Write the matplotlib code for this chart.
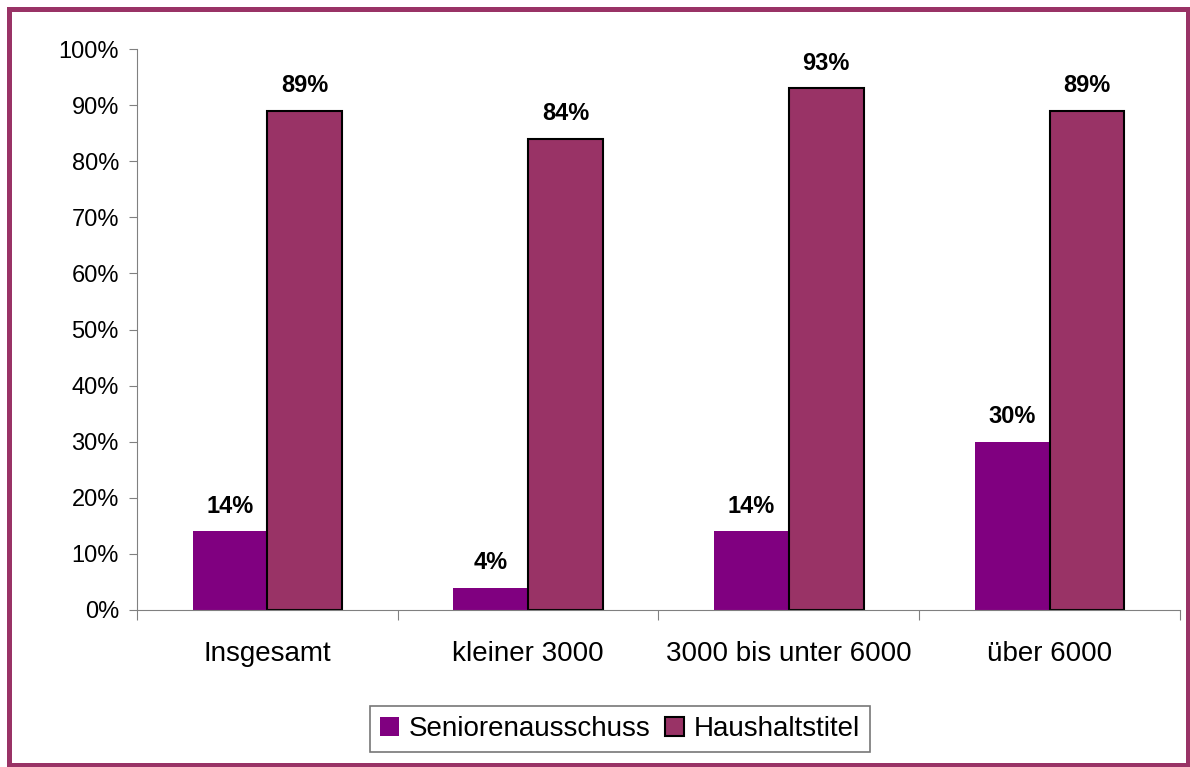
import numpy as np
import matplotlib.pyplot as plt
from matplotlib.patches import Rectangle

plt.rcParams['font.family'] = ['Liberation Sans', 'DejaVu Sans']

#categories
cats = ['Insgesamt', 'kleiner 3000', '3000 bis unter 6000', 'über 6000']
#Seniorenausschuss
senior = [14, 4, 14, 30]
#Haushaltstitel
haushalt = [89, 84, 93, 89]

fig = plt.figure(figsize=(11.9, 7.67), dpi=100)
# outer border
x0, x1 = 8.5 / 1190, 1188 / 1190
y0, y1 = 1 - 765 / 767, 1 - 8.5 / 767
fig.patches.append(Rectangle((x0, y0), x1 - x0, y1 - y0, transform=fig.transFigure,
                             fill=False, edgecolor='#993366', linewidth=3.6))
ax = fig.add_axes([0.1151, 0.2047, 0.8765, 0.7314])

x = np.arange(len(cats))
w = 0.287
b1 = ax.bar(x - w/2, senior, w, color='#800080', label='Seniorenausschuss')
b2 = ax.bar(x + w/2, haushalt, w, color='#993366', edgecolor='black', linewidth=1.5,
            label='Haushaltstitel')

for rect, v in zip(list(b1) + list(b2), senior + haushalt):
    ax.text(rect.get_x() + rect.get_width()/2, v + 2.4, f'{v}%', ha='center', va='bottom',
            fontsize=17, fontweight='bold')

ax.set_xlim(-0.5, len(cats) - 0.5)
ax.set_ylim(0, 100)
ax.set_yticks(range(0, 101, 10))
ax.set_yticklabels([f'{t}%' for t in range(0, 101, 10)], fontsize=17)
ax.set_xticks(np.arange(len(cats) + 1) - 0.5)
ax.set_xticklabels([])
ax.set_xticks(x, minor=True)
ax.set_xticklabels(cats, minor=True, fontsize=20)
ax.tick_params(axis='x', which='minor', length=0, pad=22)
ax.tick_params(axis='x', which='major', length=7, color='#808080', direction='out')
ax.tick_params(axis='y', length=6, color='#808080', direction='out', pad=7)
ax.spines['top'].set_visible(False)
ax.spines['right'].set_visible(False)
ax.spines['left'].set_color('#808080')
ax.spines['bottom'].set_color('#808080')

leg = fig.legend(loc='center', bbox_to_anchor=(0.521, 0.0495), ncol=2, fontsize=20,
                 frameon=True, fancybox=False, edgecolor='#555555', handlelength=0.7,
                 handleheight=0.7, handletextpad=0.35, columnspacing=0.5, borderpad=0.35)
leg.get_frame().set_linewidth(1.2)

fig.savefig('out.png', dpi=100)
